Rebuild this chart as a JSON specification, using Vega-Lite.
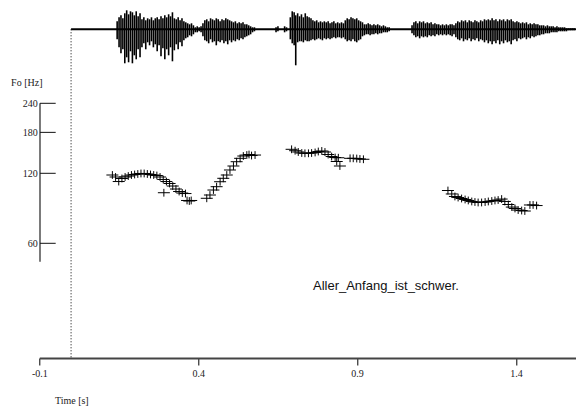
{
"$schema": "https://vega.github.io/schema/vega-lite/v6.json",
"width": 536.7, "height": 358,
"autosize": {"type": "none"},
"padding": {"left": 39.3, "top": 0, "right": 0, "bottom": 50},
"background": "white",
"config": {"view": {"stroke": null}},
"datasets": {
"wave": [
{"t":0.145,"hi":8,"lo":-10},{"t":0.151,"hi":12,"lo":-18},{"t":0.157,"hi":14,"lo":-24},{"t":0.163,"hi":11,"lo":-20},{"t":0.169,"hi":16,"lo":-34},{"t":0.175,"hi":19,"lo":-28},{"t":0.181,"hi":15,"lo":-33},{"t":0.187,"hi":18,"lo":-22},{"t":0.193,"hi":17,"lo":-34},{"t":0.199,"hi":14,"lo":-26},{"t":0.205,"hi":18,"lo":-30},{"t":0.211,"hi":13,"lo":-20},{"t":0.217,"hi":16,"lo":-28},{"t":0.223,"hi":10,"lo":-18},{"t":0.229,"hi":12,"lo":-14},{"t":0.235,"hi":9,"lo":-20},{"t":0.241,"hi":11,"lo":-13},{"t":0.247,"hi":10,"lo":-16},{"t":0.253,"hi":12,"lo":-12},{"t":0.259,"hi":9,"lo":-18},{"t":0.265,"hi":11,"lo":-15},{"t":0.271,"hi":12,"lo":-22},{"t":0.277,"hi":10,"lo":-16},{"t":0.283,"hi":13,"lo":-27},{"t":0.289,"hi":11,"lo":-19},{"t":0.295,"hi":14,"lo":-30},{"t":0.301,"hi":12,"lo":-20},{"t":0.307,"hi":15,"lo":-26},{"t":0.313,"hi":13,"lo":-18},{"t":0.319,"hi":17,"lo":-32},{"t":0.325,"hi":11,"lo":-21},{"t":0.331,"hi":10,"lo":-15},{"t":0.337,"hi":12,"lo":-20},{"t":0.343,"hi":9,"lo":-13},{"t":0.349,"hi":11,"lo":-17},{"t":0.355,"hi":8,"lo":-11},{"t":0.361,"hi":7,"lo":-9},{"t":0.367,"hi":6,"lo":-8},{"t":0.373,"hi":5,"lo":-6},{"t":0.379,"hi":6,"lo":-7},{"t":0.385,"hi":4,"lo":-5},{"t":0.391,"hi":2,"lo":-3},{"t":0.397,"hi":3,"lo":-3},{"t":0.403,"hi":2,"lo":-2},{"t":0.409,"hi":3,"lo":-3},
{"t":0.415,"hi":6,"lo":-7},{"t":0.421,"hi":9,"lo":-11},{"t":0.427,"hi":10,"lo":-12},{"t":0.433,"hi":8,"lo":-14},{"t":0.439,"hi":11,"lo":-10},{"t":0.445,"hi":10,"lo":-13},{"t":0.451,"hi":9,"lo":-12},{"t":0.457,"hi":11,"lo":-16},{"t":0.463,"hi":10,"lo":-12},{"t":0.469,"hi":8,"lo":-13},{"t":0.475,"hi":10,"lo":-11},{"t":0.481,"hi":9,"lo":-14},{"t":0.487,"hi":11,"lo":-12},{"t":0.493,"hi":10,"lo":-15},{"t":0.499,"hi":9,"lo":-11},{"t":0.505,"hi":8,"lo":-13},{"t":0.511,"hi":7,"lo":-11},{"t":0.517,"hi":8,"lo":-12},{"t":0.523,"hi":6,"lo":-10},{"t":0.529,"hi":7,"lo":-11},{"t":0.535,"hi":6,"lo":-9},{"t":0.541,"hi":7,"lo":-10},{"t":0.547,"hi":5,"lo":-8},{"t":0.553,"hi":5,"lo":-7},{"t":0.559,"hi":4,"lo":-6},{"t":0.565,"hi":3,"lo":-5},{"t":0.571,"hi":2,"lo":-3},{"t":0.577,"hi":2,"lo":-2},
{"t":0.645,"hi":2,"lo":-3},{"t":0.651,"hi":3,"lo":-2},{"t":0.672,"hi":3,"lo":-3},{"t":0.678,"hi":2,"lo":-2},
{"t":0.690,"hi":12,"lo":-10},{"t":0.696,"hi":18,"lo":-14},{"t":0.702,"hi":17,"lo":-16},{"t":0.707,"hi":14,"lo":-36},{"t":0.713,"hi":16,"lo":-13},{"t":0.719,"hi":13,"lo":-12},{"t":0.725,"hi":15,"lo":-12},{"t":0.731,"hi":12,"lo":-13},{"t":0.737,"hi":16,"lo":-11},{"t":0.743,"hi":13,"lo":-12},{"t":0.749,"hi":12,"lo":-12},{"t":0.755,"hi":11,"lo":-11},{"t":0.761,"hi":9,"lo":-10},{"t":0.767,"hi":8,"lo":-11},{"t":0.773,"hi":9,"lo":-10},{"t":0.779,"hi":7,"lo":-9},{"t":0.785,"hi":8,"lo":-10},{"t":0.791,"hi":7,"lo":-11},{"t":0.797,"hi":8,"lo":-9},{"t":0.803,"hi":7,"lo":-10},{"t":0.809,"hi":8,"lo":-9},{"t":0.815,"hi":6,"lo":-10},{"t":0.821,"hi":7,"lo":-9},{"t":0.827,"hi":8,"lo":-8},{"t":0.833,"hi":6,"lo":-9},{"t":0.839,"hi":7,"lo":-8},{"t":0.845,"hi":6,"lo":-8},{"t":0.851,"hi":7,"lo":-9},{"t":0.857,"hi":6,"lo":-8},{"t":0.863,"hi":9,"lo":-10},{"t":0.869,"hi":11,"lo":-12},{"t":0.875,"hi":10,"lo":-11},{"t":0.881,"hi":12,"lo":-12},{"t":0.887,"hi":11,"lo":-10},{"t":0.893,"hi":10,"lo":-12},{"t":0.899,"hi":11,"lo":-13},{"t":0.905,"hi":9,"lo":-11},{"t":0.911,"hi":8,"lo":-10},{"t":0.917,"hi":7,"lo":-7},{"t":0.923,"hi":5,"lo":-6},{"t":0.929,"hi":5,"lo":-5},{"t":0.935,"hi":6,"lo":-5},{"t":0.941,"hi":5,"lo":-6},{"t":0.947,"hi":4,"lo":-5},{"t":0.953,"hi":5,"lo":-5},{"t":0.959,"hi":4,"lo":-4},{"t":0.965,"hi":5,"lo":-5},{"t":0.971,"hi":4,"lo":-4},{"t":0.977,"hi":3,"lo":-4},{"t":0.983,"hi":4,"lo":-3},{"t":0.989,"hi":3,"lo":-3},{"t":0.995,"hi":2,"lo":-3},{"t":1.001,"hi":2,"lo":-2},
{"t":1.073,"hi":4,"lo":-4},{"t":1.079,"hi":7,"lo":-6},{"t":1.085,"hi":8,"lo":-8},{"t":1.091,"hi":6,"lo":-7},{"t":1.097,"hi":8,"lo":-9},{"t":1.103,"hi":7,"lo":-7},{"t":1.109,"hi":8,"lo":-8},{"t":1.115,"hi":6,"lo":-7},{"t":1.121,"hi":7,"lo":-8},{"t":1.127,"hi":6,"lo":-6},{"t":1.133,"hi":7,"lo":-7},{"t":1.139,"hi":5,"lo":-6},{"t":1.145,"hi":6,"lo":-7},{"t":1.151,"hi":5,"lo":-5},{"t":1.157,"hi":5,"lo":-6},{"t":1.163,"hi":4,"lo":-5},{"t":1.169,"hi":5,"lo":-6},{"t":1.175,"hi":4,"lo":-5},{"t":1.181,"hi":5,"lo":-6},{"t":1.187,"hi":4,"lo":-5},{"t":1.193,"hi":5,"lo":-6},{"t":1.199,"hi":5,"lo":-7},{"t":1.205,"hi":4,"lo":-5},{"t":1.211,"hi":6,"lo":-8},{"t":1.217,"hi":8,"lo":-10},{"t":1.223,"hi":7,"lo":-11},{"t":1.229,"hi":9,"lo":-9},{"t":1.235,"hi":8,"lo":-12},{"t":1.241,"hi":9,"lo":-10},{"t":1.247,"hi":7,"lo":-11},{"t":1.253,"hi":9,"lo":-9},{"t":1.259,"hi":8,"lo":-12},{"t":1.265,"hi":7,"lo":-10},{"t":1.271,"hi":9,"lo":-11},{"t":1.277,"hi":8,"lo":-9},{"t":1.283,"hi":7,"lo":-12},{"t":1.289,"hi":9,"lo":-10},{"t":1.295,"hi":8,"lo":-11},{"t":1.301,"hi":10,"lo":-13},{"t":1.307,"hi":9,"lo":-11},{"t":1.313,"hi":10,"lo":-14},{"t":1.319,"hi":9,"lo":-12},{"t":1.325,"hi":11,"lo":-15},{"t":1.331,"hi":9,"lo":-12},{"t":1.337,"hi":10,"lo":-14},{"t":1.343,"hi":8,"lo":-11},{"t":1.349,"hi":10,"lo":-15},{"t":1.355,"hi":9,"lo":-12},{"t":1.361,"hi":10,"lo":-14},{"t":1.367,"hi":8,"lo":-11},{"t":1.373,"hi":10,"lo":-13},{"t":1.379,"hi":9,"lo":-12},{"t":1.385,"hi":10,"lo":-15},{"t":1.391,"hi":8,"lo":-11},{"t":1.397,"hi":7,"lo":-10},{"t":1.403,"hi":8,"lo":-12},{"t":1.409,"hi":7,"lo":-9},{"t":1.415,"hi":6,"lo":-10},{"t":1.421,"hi":7,"lo":-9},{"t":1.427,"hi":6,"lo":-8},{"t":1.433,"hi":7,"lo":-10},{"t":1.439,"hi":5,"lo":-8},{"t":1.445,"hi":6,"lo":-9},{"t":1.451,"hi":5,"lo":-7},{"t":1.457,"hi":6,"lo":-8},{"t":1.463,"hi":5,"lo":-7},{"t":1.469,"hi":5,"lo":-6},{"t":1.475,"hi":4,"lo":-6},{"t":1.481,"hi":4,"lo":-5},{"t":1.487,"hi":4,"lo":-5},{"t":1.493,"hi":3,"lo":-4},{"t":1.499,"hi":4,"lo":-4},{"t":1.505,"hi":3,"lo":-4},{"t":1.511,"hi":3,"lo":-3},{"t":1.517,"hi":3,"lo":-3},{"t":1.523,"hi":2,"lo":-3},{"t":1.529,"hi":3,"lo":-3},{"t":1.535,"hi":2,"lo":-2},{"t":1.541,"hi":2,"lo":-2},{"t":1.547,"hi":2,"lo":-2},{"t":1.553,"hi":2,"lo":-2},{"t":1.559,"hi":1,"lo":-2},{"t":1.565,"hi":1,"lo":-1},{"t":1.571,"hi":1,"lo":-1},{"t":1.577,"hi":1,"lo":-1},{"t":1.583,"hi":1,"lo":-1}
],
"baseline": [{"t": 0, "t1": 1.589, "a": 0}],
"cursor": [{"t": 0, "a0": 0, "a1": -328.7}],
"pitch": [
{"t":0.130,"f":118.0},{"t":0.140,"f":115.7},{"t":0.150,"f":110.6},{"t":0.160,"f":114.0},{"t":0.170,"f":115.7},{"t":0.180,"f":116.8},{"t":0.190,"f":118.0},{"t":0.200,"f":118.6},{"t":0.210,"f":119.2},{"t":0.220,"f":119.8},{"t":0.230,"f":119.8},{"t":0.240,"f":119.2},{"t":0.250,"f":118.6},{"t":0.260,"f":118.0},{"t":0.270,"f":117.4},{"t":0.280,"f":115.7},{"t":0.290,"f":112.9},{"t":0.292,"f":99.0},{"t":0.300,"f":110.6},{"t":0.310,"f":108.5},{"t":0.320,"f":105.8},{"t":0.330,"f":102.7},{"t":0.340,"f":100.2},{"t":0.350,"f":98.7},{"t":0.360,"f":98.2},{"t":0.365,"f":91.7},{"t":0.372,"f":91.2},{"t":0.378,"f":91.7},
{"t":0.427,"f":93.7},{"t":0.437,"f":96.8},{"t":0.448,"f":101.7},{"t":0.458,"f":105.1},{"t":0.469,"f":110.4},{"t":0.479,"f":114.2},{"t":0.490,"f":118.0},{"t":0.500,"f":124.0},{"t":0.511,"f":129.0},{"t":0.521,"f":134.6},{"t":0.532,"f":139.2},{"t":0.542,"f":142.4},{"t":0.553,"f":143.8},{"t":0.560,"f":144.5},{"t":0.568,"f":143.1},{"t":0.579,"f":143.8},
{"t":0.694,"f":152.2},{"t":0.705,"f":150.1},{"t":0.715,"f":148.2},{"t":0.726,"f":146.7},{"t":0.736,"f":146.3},{"t":0.747,"f":146.3},{"t":0.757,"f":146.7},{"t":0.768,"f":147.5},{"t":0.778,"f":148.9},{"t":0.789,"f":149.7},{"t":0.799,"f":148.2},{"t":0.809,"f":144.5},{"t":0.820,"f":141.7},{"t":0.831,"f":140.3},{"t":0.836,"f":134.9},{"t":0.841,"f":140.0},{"t":0.846,"f":129.0},{"t":0.878,"f":139.2},{"t":0.888,"f":139.2},{"t":0.899,"f":138.9},{"t":0.909,"f":138.3},{"t":0.920,"f":137.9},
{"t":1.186,"f":101.2},{"t":1.198,"f":97.8},{"t":1.208,"f":95.4},{"t":1.218,"f":94.4},{"t":1.229,"f":93.5},{"t":1.240,"f":92.6},{"t":1.250,"f":91.7},{"t":1.261,"f":90.8},{"t":1.271,"f":90.3},{"t":1.281,"f":89.9},{"t":1.292,"f":89.9},{"t":1.303,"f":90.3},{"t":1.313,"f":90.8},{"t":1.324,"f":91.2},{"t":1.334,"f":91.7},{"t":1.344,"f":92.1},{"t":1.355,"f":93.0},{"t":1.365,"f":90.8},{"t":1.376,"f":88.1},{"t":1.387,"f":85.9},{"t":1.397,"f":84.7},{"t":1.407,"f":83.4},{"t":1.418,"f":83.0},{"t":1.428,"f":82.6},{"t":1.444,"f":87.7},{"t":1.454,"f":87.7},{"t":1.465,"f":87.2}
],
"yline": [{"t": -0.0978, "f": 50, "f2": 240}],
"yticks": [{"t": -0.0978, "t2": -0.0484, "f": 60}, {"t": -0.0978, "t2": -0.0484, "f": 120}, {"t": -0.0978, "t2": -0.0484, "f": 180}, {"t": -0.0978, "t2": -0.0484, "f": 240}],
"caption": [{"t": 0.7612, "f": 39.3, "label": "Aller_Anfang_ist_schwer."}]
},
"encoding": {
"x": {"field": "t", "type": "quantitative",
"scale": {"domain": [-0.1, 1.589], "nice": false, "zero": false},
"axis": {"values": [-0.1, 0.4, 0.9, 1.4], "labelExpr": "datum.value < 0 ? '-' + format(-datum.value, '.1f') : format(datum.value, '.1f')",
"grid": false, "domainColor": "#444", "domainWidth": 2, "tickColor": "#000", "tickSize": 7, "tickWidth": 1,
"labelPadding": 3, "labelFont": "Times New Roman, Liberation Serif, serif", "labelFontSize": 10, "labelColor": "#222", "labelFlush": false,
"title": "Time [s]", "titleX": 32, "titleY": 42, "titleAlign": "center", "titleBaseline": "middle", "titleAnchor": null,
"titleFont": "Times New Roman, Liberation Serif, serif", "titleFontSize": 10, "titleFontWeight": "normal", "titleColor": "#222"}}
},
"layer": [
{
"layer": [
{"data": {"name": "wave"}, "mark": {"type": "rule", "color": "black", "strokeWidth": 1.6},
"encoding": {"y": {"field": "hi", "type": "quantitative", "scale": {"domain": [-328.7, 29.3], "nice": false, "zero": false}, "axis": null}, "y2": {"field": "lo"}}},
{"data": {"name": "baseline"}, "mark": {"type": "rule", "color": "black", "strokeWidth": 2},
"encoding": {"x2": {"field": "t1"}, "y": {"field": "a", "type": "quantitative", "scale": {"domain": [-328.7, 29.3], "nice": false, "zero": false}, "axis": null}}},
{"data": {"name": "cursor"}, "mark": {"type": "rule", "color": "black", "strokeWidth": 1, "strokeDash": [1, 2]},
"encoding": {"y": {"field": "a0", "type": "quantitative", "scale": {"domain": [-328.7, 29.3], "nice": false, "zero": false}, "axis": null}, "y2": {"field": "a1"}}}
]
},
{
"encoding": {
"y": {"field": "f", "type": "quantitative",
"scale": {"type": "log", "domain": [19.27, 667.6], "nice": false, "zero": false},
"axis": {"values": [60, 120, 180, 240], "ticks": false, "domain": false, "grid": false, "labelPadding": 2,
"labelFont": "Times New Roman, Liberation Serif, serif", "labelFontSize": 10, "labelColor": "#222",
"title": "Fo [Hz]", "titleAngle": 0, "titleX": -13, "titleY": 82, "titleAlign": "center", "titleBaseline": "middle", "titleAnchor": null,
"titleFont": "Times New Roman, Liberation Serif, serif", "titleFontSize": 10, "titleFontWeight": "normal", "titleColor": "#222"}}
},
"layer": [
{"data": {"name": "yline"}, "mark": {"type": "rule", "color": "#333", "strokeWidth": 1.3}, "encoding": {"y2": {"field": "f2"}}},
{"data": {"name": "yticks"}, "mark": {"type": "rule", "color": "#111", "strokeWidth": 1}, "encoding": {"x2": {"field": "t2"}}},
{"data": {"name": "pitch"}, "mark": {"type": "point", "shape": "M-1,0H1M0,-0.65V0.65", "filled": false, "stroke": "black", "strokeWidth": 1, "opacity": 1, "size": 144}},
{"data": {"name": "caption"}, "mark": {"type": "text", "align": "left", "baseline": "middle", "font": "Liberation Sans Narrow, Liberation Sans, sans-serif", "fontSize": 13, "color": "#111"},
"encoding": {"text": {"field": "label"}}}
]
}
],
"resolve": {"scale": {"y": "independent"}}
}
